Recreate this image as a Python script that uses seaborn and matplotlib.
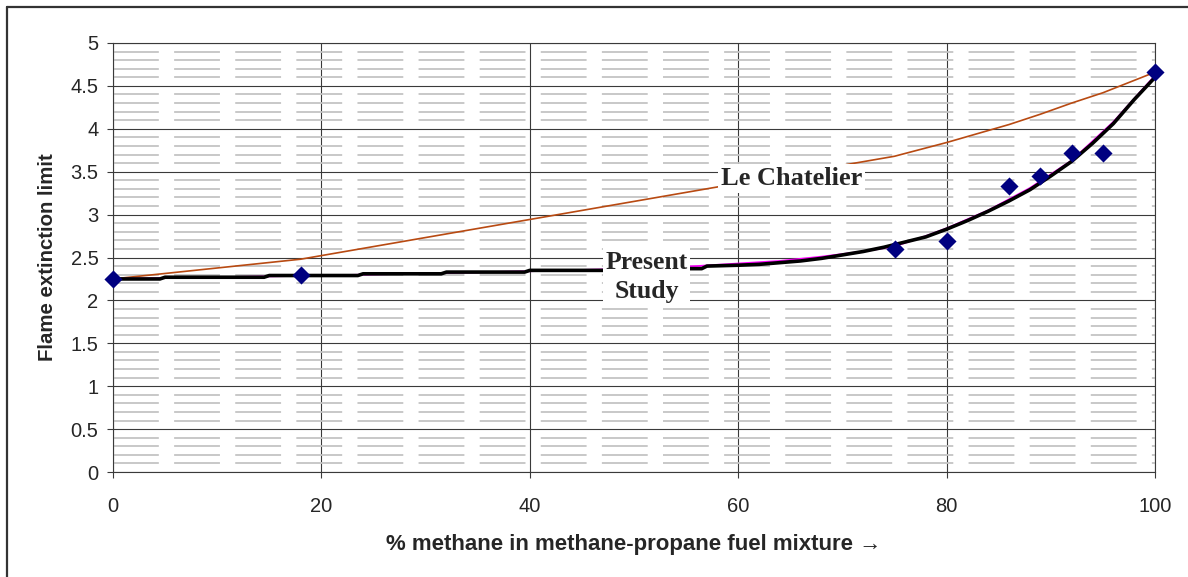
import numpy as np
import pandas as pd
import matplotlib
matplotlib.use("Agg")
import matplotlib.pyplot as plt
import seaborn as sns

# Measured flame extinction limits (diamonds)
exp_methane = [0, 18, 75, 80, 86, 89, 92, 95, 100]
exp_limit = [2.25, 2.30, 2.60, 2.69, 3.33, 3.45, 3.72, 3.72, 4.66]

# Le Chatelier mixing rule
lc_methane = [0, 18, 75, 80, 86, 89, 92, 95, 100]
lc_limit = [2.25, 2.48, 3.68, 3.84, 4.05, 4.17, 4.30, 4.42, 4.66]

# Present study prediction (stepped at low methane fractions)
ps_methane = [0, 4.5, 5, 14.5, 15, 23.5, 24, 31.5, 32, 39.5, 40, 47.5, 48, 56.5, 57,
              60, 62, 64, 66, 68, 70, 72, 74, 76, 78, 80, 82, 84, 86, 88, 90, 92,
              94, 96, 98, 100]
ps_limit = [2.25, 2.25, 2.27, 2.27, 2.29, 2.29, 2.31, 2.31, 2.33, 2.33, 2.35, 2.35,
            2.37, 2.37, 2.40, 2.41, 2.42, 2.44, 2.46, 2.49, 2.53, 2.57, 2.62, 2.68,
            2.74, 2.83, 2.93, 3.04, 3.16, 3.29, 3.45, 3.62, 3.83, 4.06, 4.34, 4.60]

# Smooth fit of the present study
fit_methane = [0, 20, 40, 50, 56, 60, 64, 68, 72, 75, 78, 80, 84, 88, 92, 96, 100]
fit_limit = [2.25, 2.29, 2.34, 2.37, 2.40, 2.43, 2.46, 2.51, 2.57, 2.63, 2.75, 2.84,
             3.05, 3.31, 3.63, 4.08, 4.62]

x_ticks = [0, 20, 40, 60, 80, 100]
y_ticks = [0, 0.5, 1, 1.5, 2, 2.5, 3, 3.5, 4, 4.5, 5]

sns.set_style("white")
plt.rcParams["lines.scale_dashes"] = False
plt.rcParams["font.family"] = ["Liberation Sans", "DejaVu Sans"]

fig = plt.figure(figsize=(11.88, 5.77), dpi=100)
ax = fig.add_axes([113 / 1188, 1 - 472 / 577, (1155 - 113) / 1188, (472 - 43) / 577])

grid_col = "#3a3a3a"

df_lc = pd.DataFrame({"x": lc_methane, "y": lc_limit})
df_fit = pd.DataFrame({"x": fit_methane, "y": fit_limit})
df_ps = pd.DataFrame({"x": ps_methane, "y": ps_limit})
df_exp = pd.DataFrame({"x": exp_methane, "y": exp_limit})

sns.lineplot(data=df_lc, x="x", y="y", ax=ax, color="#B84A12", lw=1.2,
             sort=False, estimator=None, zorder=3)
sns.lineplot(data=df_fit, x="x", y="y", ax=ax, color="#FF00FF", lw=1.3,
             sort=False, estimator=None, zorder=3)
sns.lineplot(data=df_ps, x="x", y="y", ax=ax, color="black", lw=2.6,
             sort=False, estimator=None, zorder=4)
sns.scatterplot(data=df_exp, x="x", y="y", ax=ax, color="#000080", marker="D",
                s=85, linewidth=0, zorder=6, clip_on=False)

ax.set_xlim(0, 100)
ax.set_ylim(0, 5)
ax.set_xticks(x_ticks)
ax.set_yticks(y_ticks)
ax.set_xticklabels([f"{v:g}" for v in x_ticks])
ax.set_yticklabels([f"{v:g}" for v in y_ticks])
ax.set_yticks(np.arange(0.1, 5.0, 0.1), minor=True)

ax.grid(True, which="major", color=grid_col, lw=0.8, zorder=1)
ax.grid(True, which="minor", axis="y", color="#c4c4c4", lw=1.3,
        dashes=(33, 11), zorder=0)
ax.set_axisbelow(True)

for s in ax.spines.values():
    s.set_color(grid_col)
    s.set_linewidth(0.8)
    s.set_visible(True)

ax.tick_params(axis="both", which="major", direction="out", length=4.5,
               width=0.8, color=grid_col, labelsize=14.5, pad=4,
               bottom=True, left=True)
ax.tick_params(axis="x", pad=13.5)
ax.tick_params(axis="y", pad=6)
ax.tick_params(which="minor", length=0)

ax.set_xlabel("% methane in methane-propane fuel mixture \u2192", fontsize=16,
              fontweight="bold", labelpad=13)
ax.set_ylabel("Flame extinction limit", fontsize=14.7, fontweight="bold", labelpad=10)

box = dict(facecolor="white", edgecolor="none", pad=2)
ax.text(65.1, 3.42, "Le Chatelier", ha="center", va="center", fontsize=19,
        fontweight="bold", family=["Liberation Serif", "DejaVu Serif"], bbox=box, zorder=5)
ax.text(51.2, 2.27, "Present\nStudy", ha="center", va="center", fontsize=18.5,
        fontweight="bold", family=["Liberation Serif", "DejaVu Serif"], bbox=box,
        zorder=5, linespacing=1.35)

# Outer chart frame (top and left edges visible)
fig.add_artist(plt.Line2D([7 / 1188, 7 / 1188], [0, 1 - 7 / 577],
                          transform=fig.transFigure, color="#333333", lw=1.6))
fig.add_artist(plt.Line2D([7 / 1188, 1], [1 - 7 / 577, 1 - 7 / 577],
                          transform=fig.transFigure, color="#333333", lw=1.6))

fig.savefig("out.png", dpi=100)
